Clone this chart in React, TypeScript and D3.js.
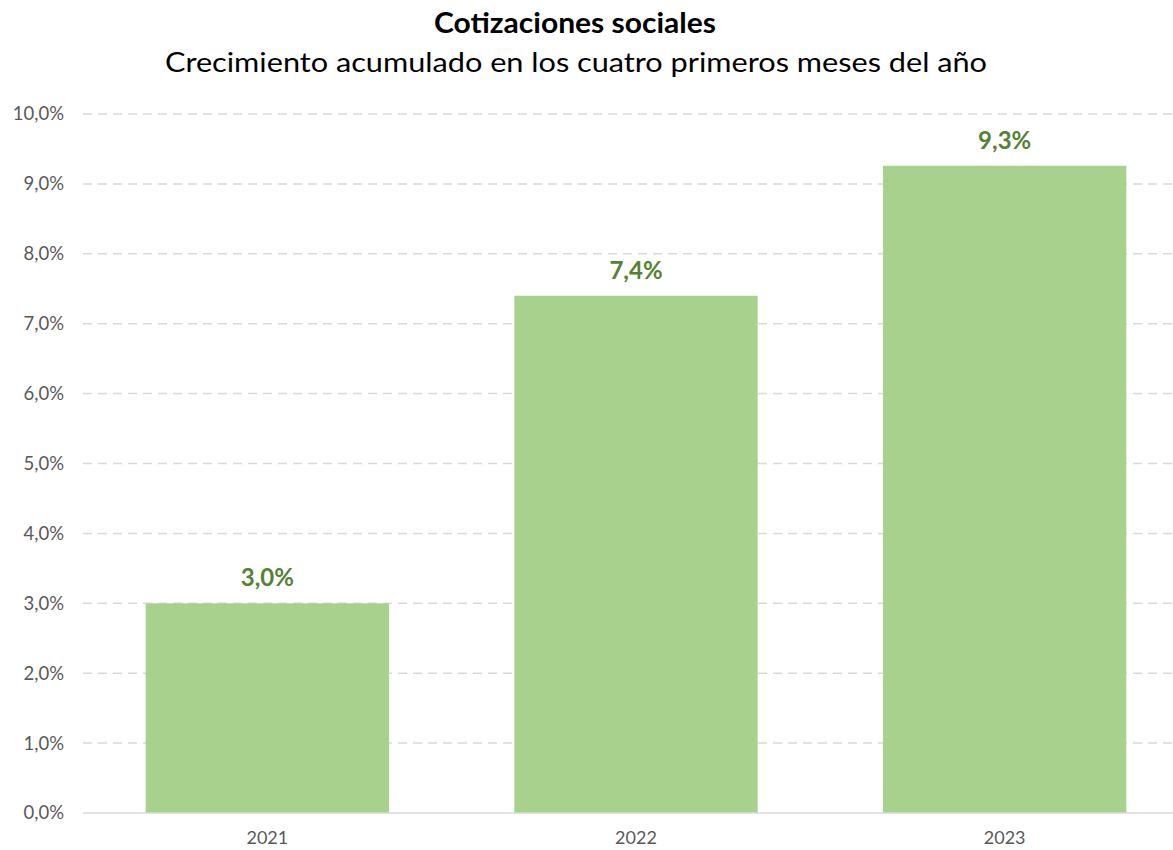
import React from "react";
import * as d3 from "d3";

const categories = ["2021", "2022", "2023"];
const values = [3.0, 7.4, 9.26];
const yTicks = [0, 1, 2, 3, 4, 5, 6, 7, 8, 9, 10];
const title = "Cotizaciones sociales";
const subtitle = "Crecimiento acumulado en los cuatro primeros meses del año";

const W = 1173;
const H = 850;
const FONT = "Lato, 'Open Sans', sans-serif";

const fmt = (v: number) => v.toFixed(1).replace(".", ",") + "%";

export default function App() {
  const x = d3.scaleBand<string>().domain(categories).range([83, 1189]).paddingInner(0.34).paddingOuter(0.17);
  const y = d3.scaleLinear().domain([0, 10]).range([813, 114]);
  return (
    <svg width={W} height={H} style={{ position: "absolute", left: 0, top: 0, background: "#fff" }} fontFamily={FONT}>
      <text x={575} y={33} textAnchor="middle" fontWeight="bold" fontSize={28} fill="#000" textLength={282} lengthAdjust="spacingAndGlyphs">{title}</text>
      <text x={576} y={72} textAnchor="middle" fontSize={26} fill="#000" textLength={822} lengthAdjust="spacingAndGlyphs">{subtitle}</text>
      {yTicks.map((t) => (
        <g key={t}>
          {t > 0 && (
            <line x1={83} x2={W} y1={y(t)} y2={y(t)} stroke="#d9d9d9" strokeWidth={1.5} strokeDasharray="9,6" />
          )}
          <text x={64} y={y(t)} dy="0.35em" textAnchor="end" fontSize={18.5} fill="#595959">{fmt(t)}</text>
        </g>
      ))}
      {categories.map((c, i) => (
        <g key={c}>
          <rect x={x(c)} y={y(values[i])} width={x.bandwidth()} height={y(0) - y(values[i])} fill="#a9d18e" />
          <text x={(x(c) as number) + x.bandwidth() / 2} y={y(values[i]) - 17} textAnchor="middle" fontWeight="bold" fontSize={24} fill="#548235">{fmt(values[i])}</text>
          <text x={(x(c) as number) + x.bandwidth() / 2} y={838} dy="0.35em" textAnchor="middle" fontSize={18} fill="#595959">{c}</text>
        </g>
      ))}
      <line x1={83} x2={W} y1={y(0)} y2={y(0)} stroke="#d9d9d9" strokeWidth={1.5} />
    </svg>
  );
}
